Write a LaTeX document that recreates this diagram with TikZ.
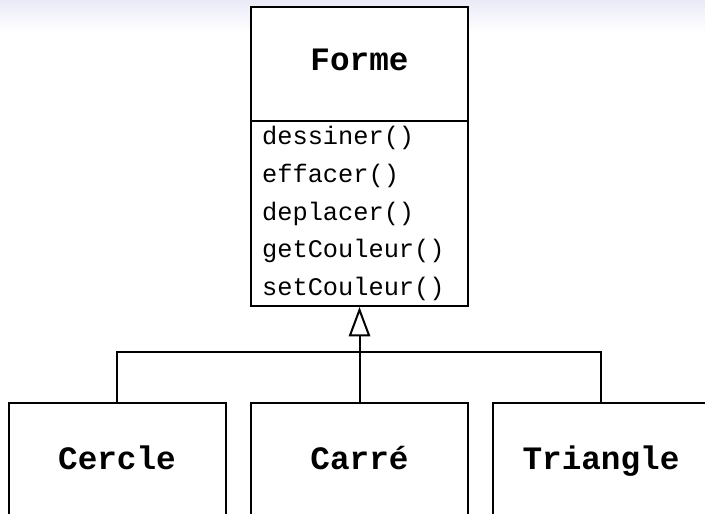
\documentclass[tikz,border=0pt]{standalone}
\usepackage{fontspec}
\setmonofont{Liberation Mono}
\usetikzlibrary{arrows.meta,positioning}
\definecolor{topshade}{RGB}{234,234,248}
\tikzset{
  classbox/.style={draw=black, line width=1.5pt, fill=white, minimum width=162.75pt,
    minimum height=86pt, inner sep=0pt, text height=14pt, text depth=4pt,
    font=\ttfamily\bfseries\fontsize{24.5}{28}\selectfont},
  subbox/.style={classbox, text height=16pt, text depth=2pt},
  opsbox/.style={draw=black, line width=1.5pt, fill=white, minimum width=162.75pt,
    minimum height=138.75pt, inner xsep=8pt, inner ysep=0pt, align=left,
    text width=146pt, font=\ttfamily\fontsize{19}{28.35}\selectfont},
  link/.style={draw=black, line width=1.5pt}
}
\begin{document}
\begin{tikzpicture}[x=0.75pt,y=-0.75pt]
  \useasboundingbox (0,0) rectangle (705,513);
  \clip (0,0) rectangle (705,513);
  % light band at the top
  \shade[top color=topshade, bottom color=white] (0,0) rectangle (705,32);
  \fill[white] (0,32) rectangle (705,513);
  \draw
    (359.5,64) node[classbox] (forme){Forme}
    (359.5,213.5) node[opsbox] (ops){dessiner()\\effacer()\\deplacer()\\getCouleur()\\setCouleur()}
    (117,460) node[subbox] (cercle){Cercle}
    (359.5,460) node[subbox] (carre){Carré}
    (601,460) node[subbox] (triangle){Triangle};
  \coordinate (joint) at (359.5,352);
  \begin{scope}[link]
    \draw[-{Triangle[open,length=22pt,width=16pt]}] (carre.north) -- (ops.south);
    \draw (cercle.north) |- (joint) -| (triangle.north);
  \end{scope}
\end{tikzpicture}
\end{document}
